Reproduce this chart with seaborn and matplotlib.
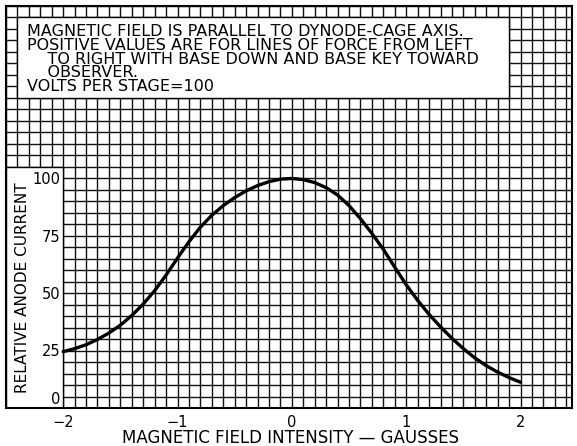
import numpy as np
import pandas as pd
import matplotlib
matplotlib.use("Agg")
import matplotlib.pyplot as plt
import matplotlib.transforms as mtransforms
from matplotlib.patches import Rectangle
import seaborn as sns

# Values
field_gauss = [-2.0, -1.9, -1.8, -1.7, -1.6, -1.5, -1.4, -1.3, -1.2, -1.1, -1.0,
               -0.9, -0.8, -0.7, -0.6, -0.5, -0.4, -0.3, -0.2, -0.1, 0.0,
               0.1, 0.2, 0.3, 0.4, 0.5, 0.6, 0.7, 0.8, 0.9, 1.0,
               1.1, 1.2, 1.3, 1.4, 1.5, 1.6, 1.7, 1.8, 1.9, 2.0]
anode_current = [24.5, 25.8, 27.5, 29.8, 32.6, 36.0, 40.2, 45.2, 51.0, 57.8, 65.2,
                 72.3, 78.6, 83.8, 88.0, 91.5, 94.4, 96.7, 98.4, 99.5, 99.8,
                 99.3, 98.0, 95.8, 92.6, 88.0, 82.3, 75.9, 69.0, 61.2, 53.6,
                 46.8, 40.7, 35.3, 30.3, 25.8, 21.8, 18.4, 15.6, 13.2, 11.2]

x_ticks = [-2, -1, 0, 1, 2]
y_ticks = [0, 25, 50, 75, 100]

note_lines = [
    "MAGNETIC FIELD IS PARALLEL TO DYNODE-CAGE AXIS.",
    "POSITIVE VALUES ARE FOR LINES OF FORCE FROM LEFT",
    "    TO RIGHT WITH BASE DOWN AND BASE KEY TOWARD",
    "    OBSERVER.",
    "VOLTS PER STAGE=100",
]

df = pd.DataFrame({"field": field_gauss, "current": anode_current})

sns.set_style("white")
plt.rcParams['font.family'] = ['DejaVu Sans']
plt.rcParams['text.color'] = 'black'
plt.rcParams['axes.labelcolor'] = 'black'
plt.rcParams['xtick.color'] = 'black'
plt.rcParams['ytick.color'] = 'black'

fig = plt.figure(figsize=(5.77, 4.46), dpi=100)
ax = fig.add_axes([6 / 577, 38 / 446, 566 / 577, 402.5 / 446])
ax.set_axisbelow(False)

ax.set_xlim(-2.5, 2.45)
ax.set_ylim(0, 175)
ax.set_xticks(x_ticks)
ax.set_yticks(y_ticks)

# graph paper: 0.1 gauss by 5 units
grid_x = np.round(np.arange(-25, 25) * 0.1, 1)
grid_y = np.arange(0, 180, 5)
ax.vlines(grid_x, 0, 175, color="#111111", linewidth=1.0, zorder=0.5)
ax.hlines(grid_y, -2.5, 2.45, color="#111111", linewidth=1.0, zorder=0.5)

sns.lineplot(data=df, x="field", y="current", color="black", linewidth=2.4, ax=ax, zorder=2)

# white label areas
ax.add_patch(Rectangle((-2.5, 0), 0.5, 105, facecolor="white", edgecolor="black", linewidth=1.0, zorder=1))
ax.add_patch(Rectangle((-2.4, 135), 4.3, 35, facecolor="white", edgecolor="black", linewidth=1.0, zorder=1))

for i, line in enumerate(note_lines):
    ax.text(-2.315, 163.5 - i * 5.9, line, fontsize=11.5, va="center", ha="left", zorder=3)

for sp in ax.spines.values():
    sp.set_color("black")
    sp.set_linewidth(1.5)

ax.tick_params(axis="both", which="both", length=0)
ax.tick_params(axis="x", labelsize=10.5, pad=5)
ax.tick_params(axis="y", labelsize=10.5, pad=-39)
ax.set_xticklabels(["\u22122", "\u22121", "0", "1", "2"])
ax.set_yticklabels([str(v) for v in y_ticks])
# the zero label sits a little above the bottom edge
zero_lbl = ax.get_yticklabels()[0]
zero_lbl.set_transform(zero_lbl.get_transform() + mtransforms.ScaledTranslation(0, 10 / 100, fig.dpi_scale_trans))

ax.set_xlabel("MAGNETIC FIELD INTENSITY \u2014 GAUSSES", fontsize=12)
ax.xaxis.set_label_coords(0.502, -0.051)
ax.set_ylabel("RELATIVE ANODE CURRENT", fontsize=11)
ax.yaxis.set_label_coords(0.029, 0.298)
ax.yaxis.label.set_va("center")

fig.savefig("out.png", dpi=100)
